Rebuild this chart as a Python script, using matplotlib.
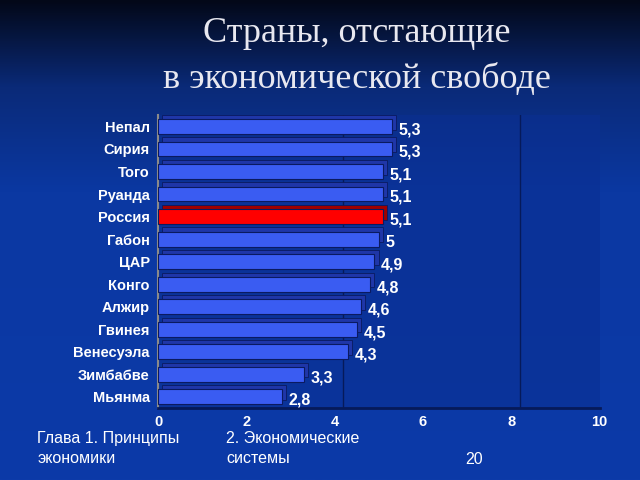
import numpy as np
import matplotlib
matplotlib.use("Agg")
import matplotlib.pyplot as plt
from matplotlib.colors import LinearSegmentedColormap
from matplotlib.transforms import ScaledTranslation

countries = ["Непал", "Сирия", "Того", "Руанда", "Россия", "Габон", "ЦАР",
             "Конго", "Алжир", "Гвинея", "Венесуэла", "Зимбабве", "Мьянма"]
values = [5.3, 5.3, 5.1, 5.1, 5.1, 5.0, 4.9, 4.8, 4.6, 4.5, 4.3, 3.3, 2.8]
highlight = "Россия"
xticks = [0, 2, 4, 6, 8, 10]

plt.rcParams['font.family'] = ['Liberation Sans', 'DejaVu Sans']

fig = plt.figure(figsize=(6.4, 4.8), dpi=100)

# background gradient
bg = fig.add_axes([0, 0, 1, 1], zorder=-10)
cmap = LinearSegmentedColormap.from_list(
    "bg", [(0, "#030818"), (0.18, "#0a2a78"), (0.4, "#0b38a2"), (1, "#0c3aa8")])
grad = np.linspace(0, 1, 256).reshape(-1, 1)
bg.imshow(grad, aspect="auto", cmap=cmap, extent=[0, 1, 0, 1], origin="upper")
bg.axis("off")

fig.text(0.558, 0.93, "Страны, отстающие", ha="center", va="center",
         fontsize=26, color="#e8e8f0", family="Liberation Serif")
fig.text(0.558, 0.835, "в экономической свободе", ha="center", va="center",
         fontsize=26, color="#e8e8f0", family="Liberation Serif")

ax = fig.add_axes([0.247, 0.15, 0.69, 0.61])
ax.set_facecolor("#0a2f92")
ax.patch.set_alpha(0.6)

y = np.arange(len(countries))
colors = ["#ff0000" if c == highlight else "#3a5cf2" for c in countries]
tops = ["#a00000" if c == highlight else "#1f36a8" for c in countries]

# depth face (shifted up-right)
shift = ax.transData + ScaledTranslation(3 / 72, 3 / 72, fig.dpi_scale_trans)
ax.barh(y, values, height=0.66, color=tops, edgecolor="#0a1a60",
        linewidth=0.6, transform=shift, zorder=2)
ax.barh(y, values, height=0.66, color=colors, edgecolor="#0a1a60",
        linewidth=0.8, zorder=3)

for yi, v in zip(y, values):
    ax.text(v + 0.15, yi + 0.15, f"{v:g}".replace(".", ","), va="center",
            ha="left", color="white", fontsize=11.5, fontweight="bold", zorder=4)

# back wall gridlines
gshift = ax.transData + ScaledTranslation(6 / 72, 0, fig.dpi_scale_trans)
for g in [4, 8, 10]:
    ax.plot([g, g], [-0.5, len(countries) - 0.3], color="#061a5a",
            linewidth=1, transform=gshift, zorder=1)

ax.set_xlim(0, 10)
ax.set_ylim(len(countries) - 0.5, -0.5)
ax.set_yticks(y)
ax.set_yticklabels(countries, color="white", fontsize=10.5, fontweight="bold")
ax.set_xticks(xticks)
ax.set_xticklabels([str(t) for t in xticks], color="white", fontsize=10.5,
                   fontweight="bold")
ax.tick_params(axis="y", length=0, pad=6)
ax.tick_params(axis="x", length=0, pad=5)
for s in ["top", "right"]:
    ax.spines[s].set_visible(False)
ax.spines["left"].set_color("#8a8a8a")
ax.spines["left"].set_linewidth(1.5)
ax.spines["bottom"].set_color("#061a5a")
ax.spines["bottom"].set_linewidth(2)

fig.text(0.058, 0.066, "Глава 1. Принципы\nэкономики", color="white",
         fontsize=11.5, va="center", ha="left", linespacing=1.4)
fig.text(0.353, 0.066, "2. Экономические\nсистемы", color="white",
         fontsize=11.5, va="center", ha="left", linespacing=1.4)
fig.text(0.727, 0.042, "20", color="white", fontsize=11.5, va="center")

fig.savefig("out.png", dpi=100)
